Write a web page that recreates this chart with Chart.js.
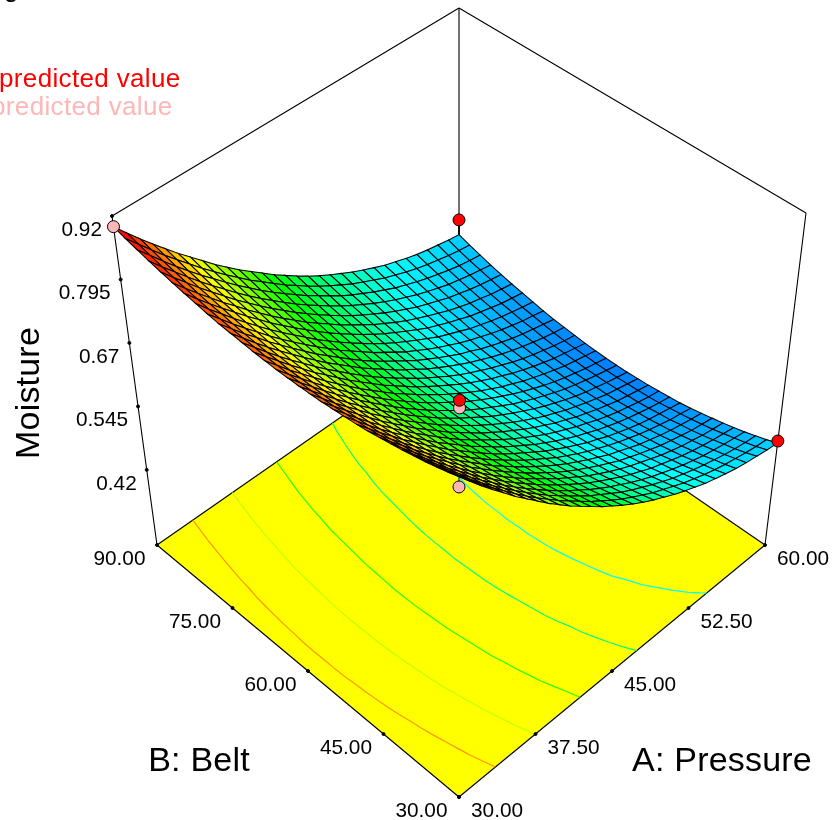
<!DOCTYPE html>
<html>
<head>
<meta charset="utf-8">
<title>Moisture response surface</title>
<script src="https://cdn.jsdelivr.net/npm/chart.js@4"></script>
<style>
  html, body { margin: 0; padding: 0; background: #fff; }
  canvas { display: block; }
</style>
</head>
<body>
<canvas id="chart" width="832" height="820"></canvas>
<script>
// ============================================
// DATA
// ============================================
const pressureTicks = [30, 37.5, 45, 52.5, 60];
const pressureLabels = ['30.00', '37.50', '45.00', '52.50', '60.00'];
const beltTicks = [30, 45, 60, 75, 90];
const beltLabels = ['30.00', '45.00', '60.00', '75.00', '90.00'];
const moistureTicks = [0.42, 0.545, 0.67, 0.795, 0.92];
const moistureLabels = ['0.42', '0.545', '0.67', '0.795', '0.92'];

// contour levels on the floor, read where the lines cross the front edge
const contourLevels = [0.811, 0.726, 0.645, 0.564, 0.498];

// design points [pressure, belt, moisture]
const pointsAbove = [[60, 90, 0.5], [60, 30, 0.475], [45, 60, 0.577]];
const pointsBelow = [[30, 90, 0.899], [45, 60, 0.562], [30, 30, 0.879]];

// moisture x1000, rows = pressure 30..60 (step 1), columns = belt 30..90 (step 2)
const moistureGrid = [
[899,892,886,880,875,870,866,862,858,855,853,851,849,848,847,847,847,848,849,851,853,855,858,862,866,870,875,880,886,892,899],
[873,867,861,855,850,845,841,837,834,831,829,827,825,824,823,823,823,824,825,827,829,831,834,837,841,845,850,855,861,867,873],
[848,842,836,831,826,821,817,814,810,807,805,803,802,800,800,800,800,800,802,803,805,807,810,814,817,821,826,831,836,842,848],
[824,818,812,807,802,798,794,790,787,785,782,780,779,778,777,777,777,778,779,780,782,785,787,790,794,798,802,807,812,818,824],
[801,795,789,784,780,775,772,768,765,762,760,758,757,756,755,755,755,756,757,758,760,762,765,768,772,775,780,784,789,795,801],
[778,773,767,762,758,754,750,746,743,741,739,737,735,734,734,734,734,734,735,737,739,741,743,746,750,754,758,762,767,773,778],
[757,751,746,741,736,732,729,725,722,720,718,716,715,714,713,713,713,714,715,716,718,720,722,725,729,732,736,741,746,751,757],
[736,730,725,720,716,712,708,705,702,700,698,696,695,694,693,693,693,694,695,696,698,700,702,705,708,712,716,720,725,730,736],
[715,710,705,700,696,692,689,686,683,680,678,677,675,674,674,674,674,674,675,677,678,680,683,686,689,692,696,700,705,710,715],
[696,691,686,681,677,673,670,667,664,662,660,658,657,656,655,655,655,656,657,658,660,662,664,667,670,673,677,681,686,691,696],
[677,672,667,663,659,655,652,648,646,644,642,640,639,638,637,637,637,638,639,640,642,644,646,648,652,655,659,663,667,672,677],
[660,655,650,645,641,637,634,631,628,626,624,622,621,620,620,620,620,620,621,622,624,626,628,631,634,637,641,645,650,655,660],
[643,638,633,628,624,621,617,614,612,609,608,606,605,604,603,603,603,604,605,606,608,609,612,614,617,621,624,628,633,638,643],
[626,621,617,612,608,605,601,598,596,593,592,590,589,588,587,587,587,588,589,590,592,593,596,598,601,605,608,612,617,621,626],
[611,606,601,597,593,589,586,583,580,578,576,575,573,573,572,572,572,573,573,575,576,578,580,583,586,589,593,597,601,606,611],
[596,591,587,582,578,575,571,568,566,564,562,560,559,558,558,557,558,558,559,560,562,564,566,568,571,575,578,582,587,591,596],
[582,577,573,568,564,561,557,554,552,550,548,546,545,544,544,543,544,544,545,546,548,550,552,554,557,561,564,568,573,577,582],
[569,564,559,555,551,547,544,541,538,536,534,533,532,531,530,530,530,531,532,533,534,536,538,541,544,547,551,555,559,564,569],
[557,552,547,543,539,535,532,529,526,524,522,520,519,518,518,518,518,518,519,520,522,524,526,529,532,535,539,543,547,552,557],
[546,540,536,531,527,523,520,517,514,512,510,508,507,506,506,506,506,506,507,508,510,512,514,517,520,523,527,531,536,540,546],
[535,530,525,520,516,512,509,506,503,501,499,497,496,495,495,494,495,495,496,497,499,501,503,506,509,512,516,520,525,530,535],
[525,520,515,510,506,502,498,495,493,490,488,487,485,484,484,484,484,484,485,487,488,490,493,495,498,502,506,510,515,520,525],
[516,510,505,501,496,493,489,486,483,481,479,477,476,475,474,474,474,475,476,477,479,481,483,486,489,493,496,501,505,510,516],
[507,502,497,492,488,484,480,477,474,471,469,468,466,465,465,465,465,465,466,468,469,471,474,477,480,484,488,492,497,502,507],
[500,494,489,484,480,475,472,468,466,463,461,459,458,457,456,456,456,457,458,459,461,463,466,468,472,475,480,484,489,494,500],
[493,487,482,477,472,468,464,461,458,455,453,451,450,449,448,448,448,449,450,451,453,455,458,461,464,468,472,477,482,487,493],
[487,481,476,470,466,461,458,454,451,448,446,444,443,442,441,441,441,442,443,444,446,448,451,454,458,461,466,470,476,481,487],
[482,476,470,465,460,456,452,448,445,442,440,438,436,435,435,435,435,435,436,438,440,442,445,448,452,456,460,465,470,476,482],
[478,471,465,460,455,450,446,443,439,437,434,432,431,430,429,429,429,430,431,432,434,437,439,443,446,450,455,460,465,471,478],
[474,467,461,456,451,446,442,438,435,432,429,427,426,425,424,424,424,425,426,427,429,432,435,438,442,446,451,456,461,467,474],
[471,464,458,452,447,442,438,434,430,427,425,423,421,420,419,419,419,420,421,423,425,427,430,434,438,442,447,452,458,464,471]
];

// ============================================
// PROJECTION - moisture box onto the page plane
// ============================================
const FLOOR_Z = 0.272;
const TOP_Z = 0.92;
// corners: [pressure low/belt low, pressure high/belt low, pressure low/belt high, both high]
const FLOOR = [[459, 797], [765, 545], [157, 545], [459, 335]];
const ROOF = [[459, 466], [806, 213], [112, 216], [459, 8]];

function corners(c, u, v) {
    return {
        x: (1 - u) * (1 - v) * c[0][0] + u * (1 - v) * c[1][0] + (1 - u) * v * c[2][0] + u * v * c[3][0],
        y: (1 - u) * (1 - v) * c[0][1] + u * (1 - v) * c[1][1] + (1 - u) * v * c[2][1] + u * v * c[3][1]
    };
}

function project(pressure, belt, moisture) {
    const u = (pressure - 30) / 30;
    const v = (belt - 30) / 60;
    const t = (moisture - FLOOR_Z) / (TOP_Z - FLOOR_Z);
    const a = corners(FLOOR, u, v);
    const b = corners(ROOF, u, v);
    return { x: a.x + (b.x - a.x) * t, y: a.y + (b.y - a.y) * t };
}

// blue - cyan - green - yellow - red
const COLOR_STOPS = [
    [0.34, [0, 0, 255]],
    [0.499, [0, 255, 255]],
    [0.628, [0, 255, 0]],
    [0.758, [255, 255, 0]],
    [0.888, [255, 0, 0]]
];

function surfaceColor(z) {
    if (z <= COLOR_STOPS[0][0]) return 'rgb(0,0,255)';
    for (let i = 1; i < COLOR_STOPS.length; i++) {
        if (z <= COLOR_STOPS[i][0]) {
            const [z0, c0] = COLOR_STOPS[i - 1];
            const [z1, c1] = COLOR_STOPS[i];
            const f = (z - z0) / (z1 - z0);
            return `rgb(${c0.map((c, k) => Math.round(c + (c1[k] - c) * f)).join(',')})`;
        }
    }
    return 'rgb(255,0,0)';
}

// ============================================
// CONTOURS - marching squares over the grid
// ============================================
function contourSegments(level) {
    const out = [];
    const differ = (z1, z2) => (z1 < level) !== (z2 < level);
    const cross = (p1, b1, z1, p2, b2, z2) => {
        const f = (level - z1) / (z2 - z1);
        return project(p1 + (p2 - p1) * f, b1 + (b2 - b1) * f, FLOOR_Z);
    };
    for (let i = 0; i < moistureGrid.length - 1; i++) {
        for (let j = 0; j < moistureGrid[i].length - 1; j++) {
            const p0 = 30 + i, p1 = 31 + i, b0 = 30 + j * 2, b1 = 32 + j * 2;
            const z00 = moistureGrid[i][j] / 1000, z10 = moistureGrid[i + 1][j] / 1000;
            const z01 = moistureGrid[i][j + 1] / 1000, z11 = moistureGrid[i + 1][j + 1] / 1000;
            const hits = [];
            if (differ(z00, z10)) hits.push(cross(p0, b0, z00, p1, b0, z10));
            if (differ(z10, z11)) hits.push(cross(p1, b0, z10, p1, b1, z11));
            if (differ(z01, z11)) hits.push(cross(p0, b1, z01, p1, b1, z11));
            if (differ(z00, z01)) hits.push(cross(p0, b0, z00, p0, b1, z01));
            if (hits.length >= 2) out.push(hits[0], hits[1], { x: null, y: null });
        }
    }
    return out;
}

// ============================================
// DATASETS
// ============================================
function edge(a, b) {
    return [project(...a), project(...b), { x: null, y: null }];
}

const boxEdges = [
    ...edge([30, 30, FLOOR_Z], [60, 30, FLOOR_Z]),
    ...edge([60, 30, FLOOR_Z], [60, 90, FLOOR_Z]),
    ...edge([60, 90, FLOOR_Z], [30, 90, FLOOR_Z]),
    ...edge([30, 90, FLOOR_Z], [30, 30, FLOOR_Z]),
    ...edge([30, 90, FLOOR_Z], [30, 90, TOP_Z]),
    ...edge([60, 90, FLOOR_Z], [60, 90, TOP_Z]),
    ...edge([60, 30, FLOOR_Z], [60, 30, TOP_Z]),
    ...edge([30, 90, TOP_Z], [60, 90, TOP_Z]),
    ...edge([60, 90, TOP_Z], [60, 30, TOP_Z])
];

const tickDots = [
    ...pressureTicks.map(p => project(p, 30, FLOOR_Z)),
    ...beltTicks.map(b => project(30, b, FLOOR_Z)),
    ...moistureTicks.map(z => project(30, 90, z))
];

function gridValue(p, b) {
    return moistureGrid[p - 30][(b - 30) / 2] / 1000;
}

const dropLines = [...pointsAbove, ...pointsBelow].flatMap(([p, b, z]) =>
    edge([p, b, z], [p, b, gridValue(p, b)]));

const datasets = [
    { label: 'Above', data: pointsAbove.map(q => project(...q)), order: 0, pointRadius: 6,
      backgroundColor: '#ff0000', borderColor: '#000', pointBorderWidth: 1 },
    { label: 'Below', data: pointsBelow.map(q => project(...q)), order: 1, pointRadius: 6,
      backgroundColor: '#ffb6b6', borderColor: '#000', pointBorderWidth: 1 },
    { label: 'Drop lines', data: dropLines, order: 2, showLine: true, pointRadius: 0,
      borderColor: '#000', borderWidth: 1 },
    { label: 'Ticks', data: tickDots, order: 3, pointRadius: 1.5, backgroundColor: '#000', borderColor: '#000' },
    ...contourLevels.map(level => ({
        label: 'Contour ' + level, data: contourSegments(level), order: 4, showLine: true,
        pointRadius: 0, borderColor: surfaceColor(level), borderWidth: 1.2
    })),
    { label: 'Box', data: boxEdges, order: 5, showLine: true, pointRadius: 0, borderColor: '#000', borderWidth: 1.1 }
];

// ============================================
// PLUGIN - floor, surface mesh and text, placed through the scales
// ============================================
const surfacePlugin = {
    id: 'surface',
    toPixel(chart, q) {
        return { x: chart.scales.x.getPixelForValue(q.x), y: chart.scales.y.getPixelForValue(q.y) };
    },
    polygon(chart, pts) {
        const ctx = chart.ctx;
        ctx.beginPath();
        pts.forEach((q, i) => {
            const px = this.toPixel(chart, q);
            if (i === 0) ctx.moveTo(px.x, px.y); else ctx.lineTo(px.x, px.y);
        });
        ctx.closePath();
    },
    beforeDatasetsDraw(chart) {
        const ctx = chart.ctx;
        this.polygon(chart, [
            project(30, 30, FLOOR_Z), project(60, 30, FLOOR_Z),
            project(60, 90, FLOOR_Z), project(30, 90, FLOOR_Z)
        ]);
        ctx.fillStyle = '#ffff00';
        ctx.fill();
    },
    beforeDatasetDraw(chart, args) {
        if (chart.data.datasets[args.index].label !== 'Drop lines') return;
        const ctx = chart.ctx;
        ctx.save();
        ctx.lineWidth = 1.05;
        ctx.strokeStyle = '#000';
        // back corner first, front corner last
        for (let i = moistureGrid.length - 2; i >= 0; i--) {
            for (let j = moistureGrid[i].length - 2; j >= 0; j--) {
                const p0 = 30 + i, p1 = 31 + i, b0 = 30 + j * 2, b1 = 32 + j * 2;
                const z00 = moistureGrid[i][j] / 1000, z10 = moistureGrid[i + 1][j] / 1000;
                const z11 = moistureGrid[i + 1][j + 1] / 1000, z01 = moistureGrid[i][j + 1] / 1000;
                this.polygon(chart, [
                    project(p0, b0, z00), project(p1, b0, z10),
                    project(p1, b1, z11), project(p0, b1, z01)
                ]);
                ctx.fillStyle = surfaceColor((z00 + z10 + z11 + z01) / 4);
                ctx.fill();
                ctx.stroke();
            }
        }
        ctx.restore();
    },
    afterDatasetsDraw(chart) {
        const ctx = chart.ctx;
        const label = (q, dx, dy, text, align) => {
            const px = this.toPixel(chart, q);
            ctx.textAlign = align;
            ctx.fillText(text, px.x + dx, px.y + dy);
        };
        ctx.save();
        ctx.fillStyle = '#000';
        ctx.textBaseline = 'middle';
        ctx.font = '20.8px "Liberation Sans"';
        pressureTicks.forEach((p, i) => label(project(p, 30, FLOOR_Z), 12, 14.5, pressureLabels[i], 'left'));
        beltTicks.forEach((b, i) => label(project(30, b, FLOOR_Z), -11.5, 14.5, beltLabels[i], 'right'));
        moistureTicks.forEach((z, i) => label(project(30, 90, z), -10, 14, moistureLabels[i], 'right'));

        ctx.font = '34px "Liberation Sans"';
        ctx.letterSpacing = '0.2px';
        ctx.textAlign = 'center';
        ctx.fillText('B: Belt', 199, 762);
        ctx.fillText('A: Pressure', 722, 762);
        ctx.save();
        ctx.translate(30, 393);
        ctx.rotate(-Math.PI / 2);
        ctx.fillText('Moisture', 0, 0);
        ctx.restore();

        // legend block, cut off by the left edge in the source picture
        ctx.textBaseline = 'alphabetic';
        ctx.textAlign = 'left';
        ctx.font = '26px "Liberation Sans"';
        ctx.letterSpacing = '0.35px';
        ctx.fillText('g', 4, -3);
        ctx.fillStyle = '#ff0000';
        ctx.fillText('predicted value', -1, 87);
        ctx.fillStyle = '#ffb6b6';
        ctx.fillText('predicted value', -9, 115);
        ctx.restore();
    }
};

new Chart(document.getElementById('chart'), {
    type: 'scatter',
    data: { datasets },
    plugins: [surfacePlugin],
    options: {
        responsive: false,
        animation: false,
        layout: { padding: 0, autoPadding: false },
        scales: {
            x: { type: 'linear', min: 0, max: 832, display: false },
            y: { type: 'linear', min: 0, max: 820, reverse: true, display: false }
        },
        plugins: { legend: { display: false }, tooltip: { enabled: false } }
    }
});
</script>
</body>
</html>
